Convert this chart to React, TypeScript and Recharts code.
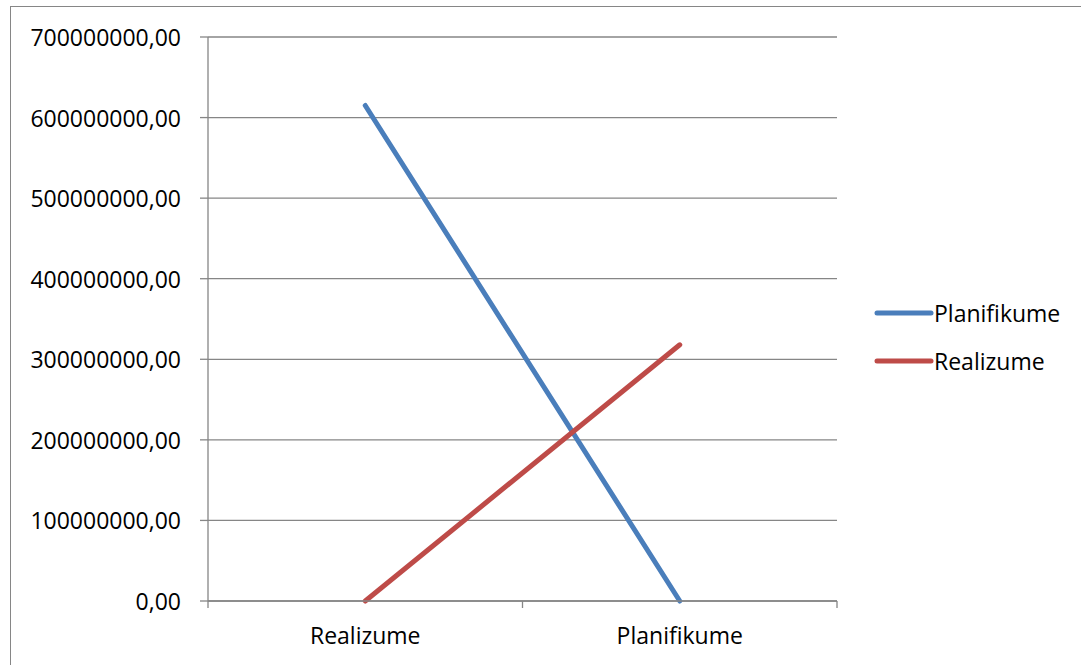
import React from 'react';
import { LineChart, Line, XAxis, YAxis, CartesianGrid } from 'recharts';

const categories = ['Realizume', 'Planifikume'];
const planifikumeValues = [615000000, 0];
const realizumeValues = [0, 318000000];
const yTicks = [0, 100000000, 200000000, 300000000, 400000000, 500000000, 600000000, 700000000];
const seriesNames = ['Planifikume', 'Realizume'];
const seriesColors = ['#4a7ebb', '#be4b48'];

const data = categories.map((c, i) => ({
  name: c,
  Planifikume: planifikumeValues[i],
  Realizume: realizumeValues[i],
}));

const W = 1081;
const H = 665;
const margin = { top: 37, right: 244, bottom: 0, left: 0 };
const yAxisWidth = 208;
const xAxisHeight = 64;
const plotWidth = W - margin.left - margin.right - yAxisWidth;
const bandWidth = plotWidth / categories.length;
const FONT = '"Open Sans", sans-serif';
const FONT_SIZE = 23;
const AXIS_COLOR = '#868686';

const fmt = (v: number) => v.toFixed(2).replace('.', ',');

const XTick = (props: any) => {
  const { x, y, payload, index } = props;
  const half = bandWidth / 2;
  return (
    <g>
      <line x1={x - half} x2={x - half} y1={y} y2={y + 7} stroke={AXIS_COLOR} strokeWidth={1.3} />
      {index === categories.length - 1 && (
        <line x1={x + half} x2={x + half} y1={y} y2={y + 7} stroke={AXIS_COLOR} strokeWidth={1.3} />
      )}
      <text x={x} y={y + 34} textAnchor="middle" dominantBaseline="central" fontFamily={FONT} fontSize={FONT_SIZE} fill="#000">
        {payload.value}
      </text>
    </g>
  );
};

const YTick = (props: any) => {
  const { x, y, payload } = props;
  return (
    <text x={x - 17} y={y} textAnchor="end" dominantBaseline="central" fontFamily={FONT} fontSize={FONT_SIZE} fill="#000">
      {fmt(payload.value)}
    </text>
  );
};

const LegendBox = () => (
  <div style={{ position: 'absolute', left: 874, top: 289, fontFamily: FONT, fontSize: FONT_SIZE, color: '#000' }}>
    {seriesNames.map((n, i) => (
      <div key={n} style={{ display: 'flex', alignItems: 'center', height: 48 }}>
        <svg width={60} height={10} style={{ display: 'block' }}>
          <line x1={3} x2={57} y1={5} y2={5} stroke={seriesColors[i]} strokeWidth={5} strokeLinecap="round" />
        </svg>
        <span style={{ lineHeight: '48px' }}>{n}</span>
      </div>
    ))}
  </div>
);

export default function App() {
  return (
    <div style={{ position: 'absolute', left: 0, top: 0, width: W, height: H, overflow: 'hidden', background: '#fff' }}>
      <div
        style={{
          position: 'absolute',
          left: 10,
          top: 6,
          width: 1100,
          height: 700,
          border: `1.5px solid ${AXIS_COLOR}`,
          boxSizing: 'border-box',
        }}
      />
      <div style={{ position: 'absolute', left: 0, top: 0 }}>
        <LineChart width={W} height={H} data={data} margin={margin}>
          <CartesianGrid vertical={false} stroke={AXIS_COLOR} strokeWidth={1.3} />
          <XAxis
            dataKey="name"
            scale="band"
            height={xAxisHeight}
            axisLine={{ stroke: AXIS_COLOR, strokeWidth: 1.3 }}
            tickLine={false}
            tickSize={0}
            tickMargin={0}
            tick={<XTick />}
            interval={0}
          />
          <YAxis
            width={yAxisWidth}
            domain={[0, 700000000]}
            ticks={yTicks}
            interval={0}
            axisLine={{ stroke: AXIS_COLOR, strokeWidth: 1.3 }}
            tickLine={{ stroke: AXIS_COLOR, strokeWidth: 1.3 }}
            tickSize={8}
            tick={<YTick />}
          />
          {seriesNames.map((n, i) => (
            <Line
              key={n}
              dataKey={n}
              stroke={seriesColors[i]}
              strokeWidth={5}
              strokeLinecap="round"
              dot={false}
              activeDot={false}
              isAnimationActive={false}
            />
          ))}
        </LineChart>
      </div>
      <LegendBox />
    </div>
  );
}
